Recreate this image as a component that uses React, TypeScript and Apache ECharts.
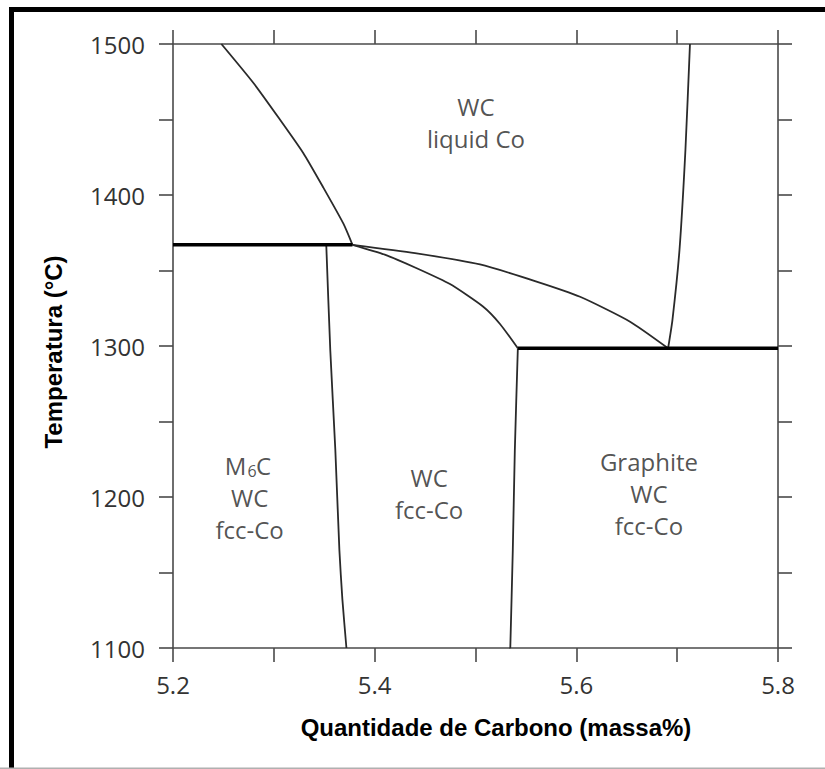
import React, { useEffect, useRef } from "react";
import * as echarts from "echarts";

// Axis ranges and ticks
const carbonMin = 5.2;
const carbonMax = 5.8;
const carbonStep = 0.1;
const tempMin = 1100;
const tempMax = 1500;
const tempStep = 50;

// Phase boundaries: [carbon mass %, temperature °C]
const liquidusM6C = [
  [5.248, 1500], [5.28, 1474], [5.306, 1450], [5.329, 1428],
  [5.349, 1405], [5.369, 1381], [5.378, 1367],
];
const eutecticM6C = [[5.2, 1367], [5.378, 1367]];
const liquidusGraphite = [
  [5.378, 1367], [5.44, 1361.5], [5.5045, 1354], [5.559, 1343],
  [5.6037, 1332.6], [5.6533, 1316.1], [5.691, 1298.5],
];
const solvusWC = [
  [5.378, 1367], [5.41, 1360.5], [5.4417, 1351.5], [5.4747, 1341],
  [5.5077, 1326], [5.5243, 1314.6], [5.542, 1298.5],
];
const boundaryM6C = [
  [5.352, 1367], [5.356, 1297], [5.361, 1231], [5.365, 1165],
  [5.368, 1132], [5.372, 1100],
];
const boundaryGraphite = [
  [5.542, 1298.5], [5.539, 1231], [5.537, 1165], [5.5345, 1100],
];
const eutecticGraphite = [[5.542, 1298.5], [5.8, 1298.5]];
const liquidusCo = [
  [5.7127, 1500], [5.7082, 1430], [5.7023, 1363.6], [5.6953, 1317.2],
  [5.691, 1298.5],
];

// Phase field names, anchored at the centre of each field, one entry per line.
// A line given as pieces is a chemical formula with a subscript.
type Piece = { text: string; dx: number; dy: number; size: number };
const m6cFormula: Piece[] = [
  { text: "M", dx: -14, dy: 0, size: 24 },
  { text: "6", dx: 2.5, dy: 6, size: 16 },
  { text: "C", dx: 14, dy: 0, size: 24 },
];
const fieldLabels: { at: number[]; lines: (string | Piece[])[] }[] = [
  { at: [5.5005, 1448], lines: ["WC", "liquid Co"] },
  { at: [5.276, 1200], lines: [m6cFormula, "WC", "fcc-Co"] },
  { at: [5.454, 1202], lines: ["WC", "fcc-Co"] },
  { at: [5.672, 1202], lines: ["Graphite", "WC", "fcc-Co"] },
];

const xTitle = "Quantidade de Carbono (massa%)";
const yTitle = "Temperatura (°C)";

const AXIS_COLOR = "#4a4a4a";
const LABEL_FONT = "'Open Sans', 'Noto Sans', sans-serif";
const TITLE_FONT = "'Liberation Sans', Arial, sans-serif";
const LINE_GAP = 32;
const TEXT_COLOR = "#262626";

export default function App() {
  const ref = useRef<HTMLDivElement>(null);

  useEffect(() => {
    if (!ref.current) return;
    const chart = echarts.init(ref.current, undefined, { renderer: "svg" });

    const axisLine = { show: true, onZero: false, lineStyle: { color: AXIS_COLOR, width: 1.6 } };
    const axisTick = { show: true, inside: false, length: 14, lineStyle: { color: AXIS_COLOR, width: 1.6 } };

    const xBase = {
      type: "value" as const,
      min: carbonMin,
      max: carbonMax,
      interval: carbonStep,
      axisLine,
      axisTick,
      splitLine: { show: false },
    };
    const yBase = {
      type: "value" as const,
      min: tempMin,
      max: tempMax,
      interval: tempStep,
      axisLine,
      axisTick,
      splitLine: { show: false },
    };

    const thin = (data: number[][]) => ({
      type: "line" as const,
      data,
      showSymbol: false,
      smooth: 0.2,
      silent: true,
      lineStyle: { color: "#2a2a2a", width: 1.8 },
      z: 3,
    });
    const thick = (data: number[][]) => ({
      type: "line" as const,
      data,
      showSymbol: false,
      silent: true,
      lineStyle: { color: "#000", width: 3.5 },
      z: 4,
    });

    const labelItem = (at: number[], text: string, dx: number, dy: number, size: number) => ({
      value: at,
      label: {
        show: true,
        position: "inside",
        formatter: text,
        offset: [dx, dy],
        align: "center",
        verticalAlign: "middle",
        color: TEXT_COLOR,
        fontSize: size,
        fontFamily: LABEL_FONT,
      },
    });

    const labelItems = fieldLabels.flatMap((f) =>
      f.lines.flatMap((line, i) => {
        const dy = (i - (f.lines.length - 1) / 2) * LINE_GAP;
        if (typeof line === "string") return [labelItem(f.at, line, 0, dy, 24)];
        return line.map((p) => labelItem(f.at, p.text, p.dx, dy + p.dy, p.size));
      })
    );

    chart.setOption({
      animation: false,
      backgroundColor: "#fff",
      grid: { left: 173, right: 47, top: 44, bottom: 121, containLabel: false },
      xAxis: [
        {
          ...xBase,
          position: "bottom",
          axisLabel: {
            margin: 24,
            color: "#333",
            fontSize: 24,
            fontFamily: LABEL_FONT,
            formatter: (v: number) => (Math.round(v * 10) % 2 === 0 ? v.toFixed(1) : ""),
          },
        },
        { ...xBase, position: "top", axisLabel: { show: false } },
      ],
      yAxis: [
        {
          ...yBase,
          position: "left",
          axisLabel: {
            margin: 28,
            color: "#333",
            fontSize: 24,
            fontFamily: LABEL_FONT,
            formatter: (v: number) => (Math.round(v) % 100 === 0 ? String(Math.round(v)) : ""),
          },
        },
        { ...yBase, position: "right", axisLabel: { show: false } },
      ],
      series: [
        thin(liquidusM6C),
        thin(liquidusGraphite),
        thin(solvusWC),
        thin(boundaryM6C),
        thin(boundaryGraphite),
        thin(liquidusCo),
        thick(eutecticM6C),
        thick(eutecticGraphite),
        {
          type: "scatter",
          symbolSize: 0,
          silent: true,
          z: 5,
          data: labelItems,
        },
      ],
      graphic: [
        { type: "rect", shape: { x: 9, y: 7, width: 816, height: 5 }, style: { fill: "#000" }, silent: true },
        { type: "rect", shape: { x: 9, y: 7, width: 5, height: 762 }, style: { fill: "#000" }, silent: true },
        { type: "rect", shape: { x: 0, y: 767.5, width: 825, height: 1.5 }, style: { fill: "#b0b0b0" }, silent: true },
        {
          type: "text",
          x: 496,
          y: 727,
          style: {
            text: xTitle,
            font: `bold 24px ${TITLE_FONT}`,
            fill: "#000",
            align: "center",
            verticalAlign: "middle",
          },
          silent: true,
        },
        {
          type: "text",
          x: 53,
          y: 352,
          rotation: Math.PI / 2,
          style: {
            text: yTitle,
            font: `bold 24px ${TITLE_FONT}`,
            fill: "#000",
            align: "center",
            verticalAlign: "middle",
          },
          silent: true,
        },
      ],
    });

    return () => chart.dispose();
  }, []);

  return (
    <div
      ref={ref}
      style={{ position: "absolute", left: 0, top: 0, width: 825, height: 769 }}
    />
  );
}
